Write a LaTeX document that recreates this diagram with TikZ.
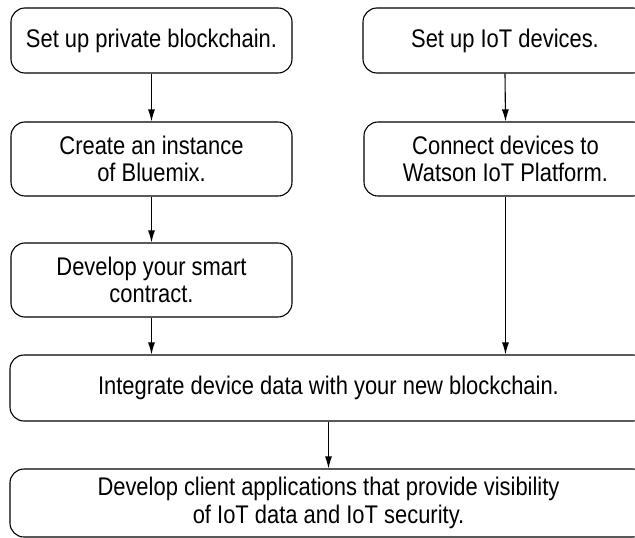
\documentclass[tikz,border=0pt]{standalone}
\usepackage{fontspec}
\setmainfont{Liberation Sans}[FakeStretch=0.86]
\usetikzlibrary{arrows.meta}
\begin{document}
\begin{tikzpicture}[x=1pt,y=-1pt,
  box/.style={draw=black, line width=1.1pt, rounded corners=14pt, align=center,
    inner sep=0pt, font=\fontsize{25.5}{27.5}\selectfont},
  arr/.style={draw=black, line width=1.1pt, -{Latex[length=12pt,width=7pt]}}]
\useasboundingbox (0,0) rectangle (635,538);
\clip (0,0) rectangle (635,538);
\fill[white] (0,0) rectangle (635,538);
\node[box, minimum width=281pt, minimum height=65pt] (b1) at (151.5,40.5) {Set up private blockchain.};
\node[box, minimum width=284pt, minimum height=65pt] (b2) at (505,40.5) {Set up IoT devices.};
\node[box, minimum width=281pt, minimum height=74pt] (b3) at (151.5,159) {Create an instance\\of Bluemix.};
\node[box, minimum width=283pt, minimum height=74pt] (b4) at (505.5,159) {Connect devices to\\Watson IoT Platform.};
\node[box, minimum width=281pt, minimum height=74pt] (b5) at (151.5,280) {Develop your smart\\contract.};
\node[box, minimum width=637pt, minimum height=66pt] (b6) at (328.5,388) {Integrate device data with your new blockchain.};
\node[box, minimum width=637pt, minimum height=68pt] (b7) at (328.5,503) {Develop client applications that provide visibility\\of IoT data and IoT security.};
\draw[arr] (b1.south) -- (b3.north);
\draw[arr] (b2.south) -- (b4.north);
\draw[arr] (b3.south) -- (b5.north);
\draw[arr] (b5.south) -- (b5.south |- b6.north);
\draw[arr] (b4.south) -- (b4.south |- b6.north);
\draw[arr] (b6.south) -- (b7.north);
\end{tikzpicture}
\end{document}
